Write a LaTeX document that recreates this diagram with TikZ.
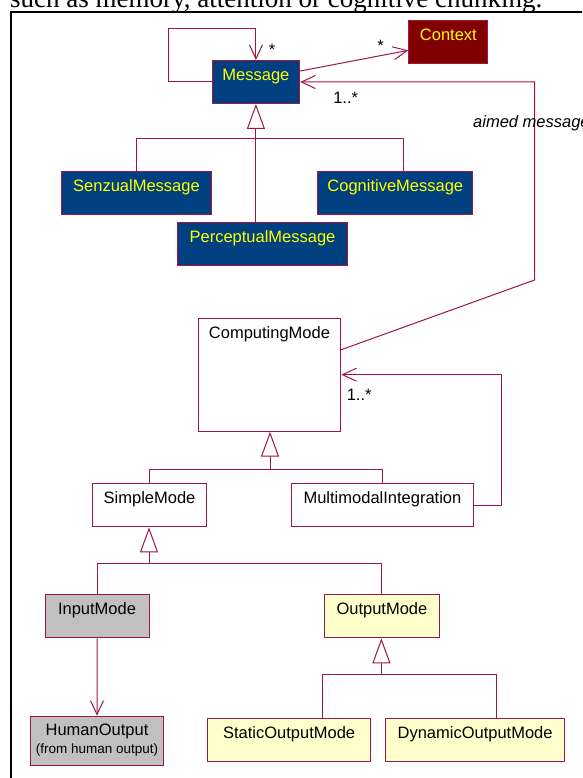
\documentclass[tikz,border=0pt]{standalone}
\usepackage{fontspec}
\setmainfont{Liberation Serif}
\newfontfamily\umlfont{Liberation Sans}
\usetikzlibrary{arrows.meta}
\definecolor{umlred}{RGB}{160,20,70}
\definecolor{msgblue}{RGB}{0,64,128}
\definecolor{ctxred}{RGB}{128,0,0}
\definecolor{msgyellow}{RGB}{255,255,0}
\definecolor{inputgray}{RGB}{192,192,192}
\definecolor{outputcream}{RGB}{255,255,204}
\def\umlsize{\umlfont\fontsize{16.5}{19}\selectfont}
\tikzset{
	umlbox/.style={draw=umlred, line width=1pt, inner sep=0pt, anchor=north west, text height=20pt, text depth=23pt, font=\umlsize},
	msgbox/.style={umlbox, fill=msgblue, text=msgyellow},
	umlline/.style={draw=umlred, line width=1pt},
	assoc/.style={umlline, -{Straight Barb[length=14pt,width=13pt]}},
	gen/.style={umlline, -{Triangle[length=25pt,width=18pt,fill=white]}},
	mult/.style={font=\umlsize, inner sep=0pt}
}

\begin{document}
\begin{tikzpicture}[x=1pt, y=-1pt]
			%%%%% START %%%%%
			\useasboundingbox (0,0) rectangle (582,778);
			\clip (0,0) rectangle (582,778);
			
			\node[anchor=base west, inner sep=0pt, font=\fontsize{27}{30}\selectfont] (intro) at (10,8) {such as memory, attention or cognitive chunking.};
			\draw[line width=2.2pt] (10.7,800) -- (10.7,12.2) -- (600,12.2);
			
			% messages
			\node[msgbox, minimum width=87.6pt] (msg) at (211.6,60) {Message};
			\node[msgbox, fill=ctxred, minimum width=79.1pt] (ctx) at (408.3,20) {Context};
			\node[msgbox, minimum width=149.6pt] (senz) at (61.2,170.7) {SenzualMessage};
			\node[msgbox, minimum width=154.8pt] (cog) at (317.4,170.7) {CognitiveMessage};
			\node[msgbox, minimum width=170pt] (perc) at (177,221.7) {PerceptualMessage};
			
			% modes
			\node[umlbox, minimum width=142.6pt, text depth=93pt] (cm) at (197.7,317.7) {ComputingMode};
			\node[umlbox, minimum width=114.7pt] (sm) at (91.7,483.3) {SimpleMode};
			\node[umlbox, minimum width=181.1pt] (mmi) at (291.4,483.3) {MultimodalIntegration};
			\node[umlbox, fill=inputgray, minimum width=104pt] (im) at (44.5,594.3) {InputMode};
			\node[umlbox, fill=outputcream, minimum width=115.4pt] (om) at (323.7,594.3) {OutputMode};
			\node[umlbox, fill=inputgray, minimum width=132.2pt, text height=19.3pt, text depth=30pt] (ho) at (30.4,715.7) {HumanOutput};
			\node[anchor=base, inner sep=0pt, font=\umlfont\fontsize{13.5}{16}\selectfont] (hosub) at ([yshift=-37.6pt]ho.north) {(from human output)};
			\node[umlbox, fill=outputcream, minimum width=163.6pt, text height=20.6pt, text depth=22.7pt] (som) at (206.8,717.7) {StaticOutputMode};
			\node[umlbox, fill=outputcream, minimum width=179.2pt, text height=20.6pt, text depth=22.7pt] (dom) at (385,717.7) {DynamicOutputMode};
			
			% associations
			\coordinate (loopcorner) at (168,28.3);
			\draw[assoc] (msg.west) -| (loopcorner) -| (msg.north);
			\node[mult] (loopmult) at (272,50) {*};
			
			\draw[assoc] ([yshift=11pt]msg.east) -- ([yshift=-8.35pt]ctx.west);
			\node[mult] (ctxmult) at (380.5,46) {*};
			
			\coordinate (aimbend) at (534.5,280);
			\draw[assoc] ([yshift=25pt]cm.east) -- (aimbend) |- (msg.east);
			\node[mult] (aimmult) at (345.7,98.3) {1..*};
			\node[anchor=base west, inner sep=0pt, font=\umlsize\itshape] (aimlabel) at (473,128) {aimed message};
			
			\draw[assoc] (mmi.east) -- ++(28,0) |- (cm.east);
			\node[mult] (mmimult) at (359.2,395) {1..*};
			
			\draw[assoc] (im.south) -- (ho.north);
			
			% generalizations
			\coordinate (msgbar) at (255.4,138.3);
			\draw[umlline] (senz.north) |- (msgbar) -| ([xshift=7.9pt]cog.north);
			\draw[gen] (msg.south |- perc.north) -- (msg.south);
			
			\coordinate (cmbar) at (270,469.3);
			\draw[umlline] (sm.north) |- (cmbar) -| (mmi.north);
			\draw[gen] (cmbar) -- (cmbar |- cm.south);
			
			\coordinate (smbar) at (149,563.3);
			\draw[umlline] (im.north) |- (smbar) -| (om.north);
			\draw[gen] (smbar) -- (smbar |- sm.south);
			
			\coordinate (ombar) at (381.4,674.3);
			\draw[umlline] ([xshift=33.6pt]som.north) |- (ombar) -| ([xshift=20.9pt]dom.north);
			\draw[gen] (ombar) -- (ombar |- om.south);
			
			%%%%% END %%%%%
\end{tikzpicture}
\end{document}
